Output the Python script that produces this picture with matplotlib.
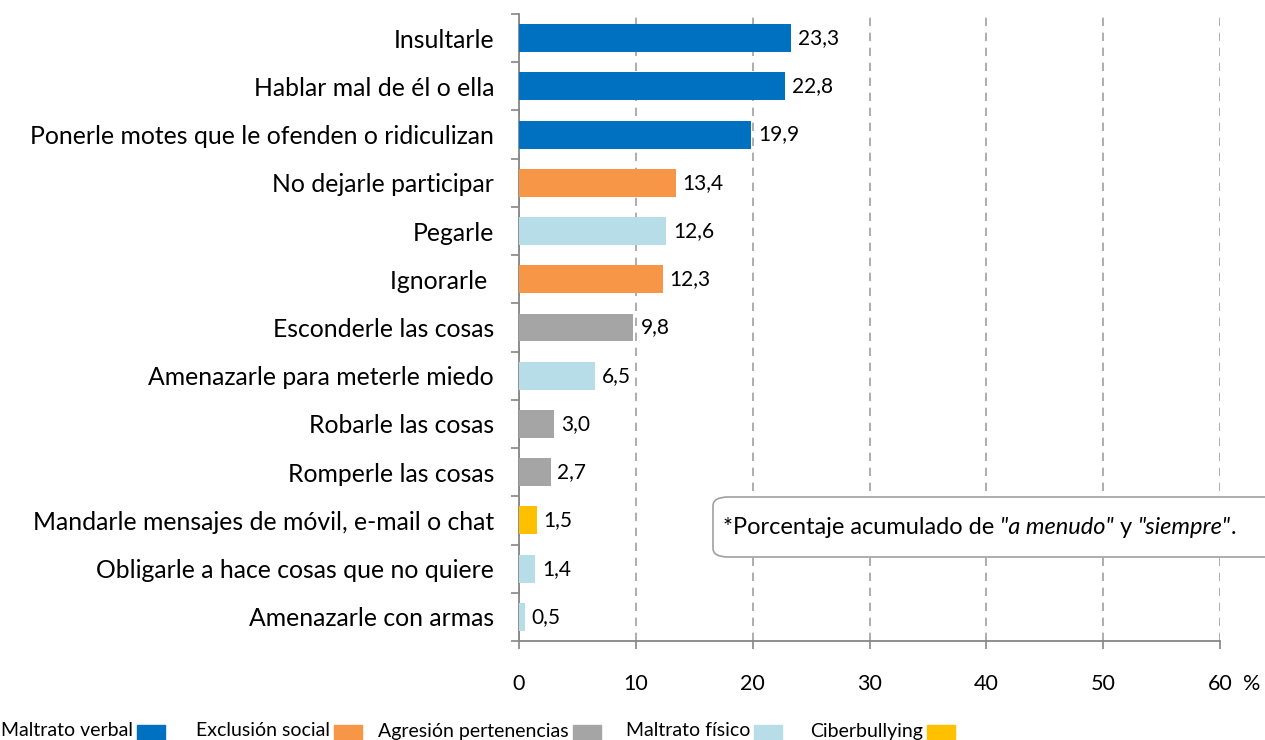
import matplotlib.pyplot as plt
from matplotlib.patches import FancyBboxPatch, Rectangle

plt.rcParams['font.family'] = ['Lato', 'DejaVu Sans']

categorias = ["Insultarle", "Hablar mal de él o ella",
              "Ponerle motes que le ofenden o ridiculizan",
              "No dejarle participar", "Pegarle", "Ignorarle ",
              "Esconderle las cosas", "Amenazarle para meterle miedo",
              "Robarle las cosas", "Romperle las cosas",
              "Mandarle mensajes de móvil, e-mail o chat",
              "Obligarle a hace cosas que no quiere", "Amenazarle con armas"]
valores = [23.3, 22.8, 19.9, 13.4, 12.6, 12.3, 9.8, 6.5, 3.0, 2.7, 1.5, 1.4, 0.5]
tipos = ["verbal", "verbal", "verbal", "exclusion", "fisico", "exclusion",
         "pertenencias", "fisico", "pertenencias", "pertenencias",
         "ciber", "fisico", "fisico"]

colores = {"verbal": "#0070C0", "exclusion": "#F79646", "pertenencias": "#A5A5A5",
           "fisico": "#B7DEE8", "ciber": "#FFC000"}
leyenda = [("Maltrato verbal", "verbal"), ("Exclusión social", "exclusion"),
           ("Agresión pertenencias", "pertenencias"), ("Maltrato físico", "fisico"),
           ("Ciberbullying", "ciber")]

W, H = 1265, 740
fig = plt.figure(figsize=(W / 100, H / 100), dpi=100)
ax = fig.add_axes([519 / W, 1 - 641 / H, (1220 - 519) / W, (641 - 14) / H])

n = len(categorias)
ys = list(range(n))
ax.barh(ys, valores, height=0.58, color=[colores[t] for t in tipos], zorder=3)
for y, v in zip(ys, valores):
    ax.annotate(f"{v:.1f}".replace(".", ","), (v, y), xytext=(5, 0),
                textcoords="offset points", va="center", ha="left", fontsize=15)

ax.set_xlim(0, 60)
ax.set_ylim(n - 0.5, -0.5)
ax.set_xticks(range(0, 61, 10))
ax.set_xticklabels([str(x) for x in range(0, 61, 10)], fontsize=15.5)
ax.set_yticks(ys)
ax.set_yticklabels(categorias, fontsize=17.8)
ax.set_yticks([i - 0.5 for i in range(n + 1)], minor=True)
ax.tick_params(axis="y", which="major", length=0, pad=18)
ax.tick_params(axis="y", which="minor", length=6, color="#868686", width=1.2)
ax.tick_params(axis="x", length=6, color="#868686", width=1.2, pad=18)
ax.xaxis.grid(True, linestyle=(0, (5, 4)), color="#A0A0A0", linewidth=1.2, zorder=0)
for s in ["top", "right"]:
    ax.spines[s].set_visible(False)
for s in ["left", "bottom"]:
    ax.spines[s].set_color("#868686")
    ax.spines[s].set_linewidth(1.3)

fig.text(1243 / W, 1 - 684 / H, "%", fontsize=15.5, ha="left", va="center")

# nota
caja = FancyBboxPatch((713 / W, 1 - 557 / H), 600 / W, 60 / H,
                      boxstyle="round,pad=0,rounding_size=0.012",
                      transform=fig.transFigure, facecolor="white",
                      edgecolor="#A0A0A0", linewidth=1.2, zorder=5)
fig.patches.append(caja)
partes = [("*Porcentaje acumulado de ", "normal"), ('"a menudo"', "italic"),
          (" y ", "normal"), ('"siempre"', "italic"), (".", "normal")]
x = 723
fig.canvas.draw()
for txt, st in partes:
    t = fig.text(x / W, 1 - 527 / H, txt, fontsize=17, va="center",
                 ha="left", style=st, zorder=6)
    fig.canvas.draw()
    x = t.get_window_extent().x1

# leyenda
texto_x = [1, 196, 378, 626, 810]
for (nombre, clave), xt in zip(leyenda, texto_x):
    tl = fig.text(xt / W, 1 - 731 / H, nombre, fontsize=14, ha="left", va="center")
    fig.canvas.draw()
    xc = tl.get_window_extent().x1 + 4
    fig.patches.append(Rectangle((xc / W, 1 - 741 / H), 28 / W, 16 / H,
                                 transform=fig.transFigure, color=colores[clave]))

fig.savefig("out.png", dpi=100)
